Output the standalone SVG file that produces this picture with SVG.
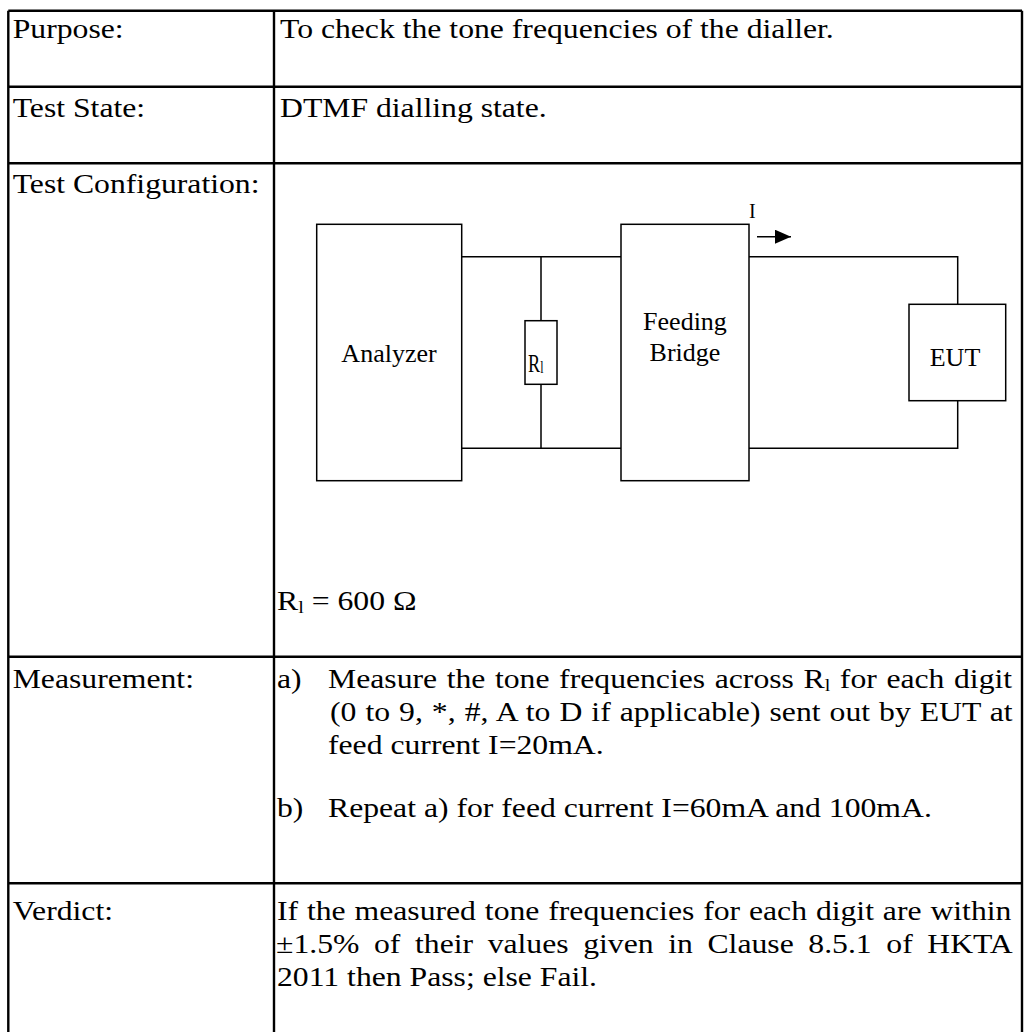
<svg xmlns="http://www.w3.org/2000/svg" width="1026" height="1032" viewBox="0 0 1026 1032">
<defs>
<style>
.t{font-family:"Liberation Serif","Times New Roman",serif;font-size:27.5px;fill:#000}
.d{font-family:"Liberation Serif","Times New Roman",serif;font-size:26px;fill:#000}
.grid{stroke:#000;stroke-width:2.4;fill:none}
.box{stroke:#000;stroke-width:1.5;fill:#fff}
.wire{stroke:#000;stroke-width:1.5;fill:none}
.sub{font-size:17.5px}
</style>
<marker id="ah" markerWidth="16" markerHeight="14" refX="16" refY="7" orient="auto" markerUnits="userSpaceOnUse">
<path d="M0,0 L16,7 L0,14 z" fill="#000"/>
</marker>
</defs>
<rect width="1026" height="1032" fill="#fff"/>

<g id="table-grid" class="grid">
<path d="M8.3 10.7 H1022 M8.3 86.7 H1022 M8.3 163.3 H1022 M8.3 656.7 H1022 M8.3 883.3 H1022"/>
<path d="M8.3 10.7 V1032 M274 10.7 V1032 M1022 10.7 V1032"/>
</g>

<g id="labels">
<text class="t" transform="translate(12.7,38) scale(1.153,1)">Purpose:</text>
<text class="t" transform="translate(12.7,116.5) scale(1.153,1)">Test State:</text>
<text class="t" transform="translate(12.7,192.5) scale(1.153,1)">Test Configuration:</text>
<text class="t" transform="translate(12.7,688) scale(1.153,1)">Measurement:</text>
<text class="t" transform="translate(12.7,920) scale(1.153,1)">Verdict:</text>
</g>

<g id="purpose">
<text class="t" transform="translate(280,38) scale(1.153,1)">To check the tone frequencies of the dialler.</text>
</g>
<g id="test-state">
<text class="t" transform="translate(280,116.5) scale(1.153,1)">DTMF dialling state.</text>
</g>

<g id="connectors" class="wire">
<path d="M461.7 256.7 H621 M461.7 448.3 H621"/>
<path d="M541 256.7 V320.7 M541 384.3 V448.3"/>
<path d="M749 256.7 H957.7 V304.3 M749 448.3 H957.7 V400.7"/>
<path d="M757 236.7 H791" marker-end="url(#ah)"/>
</g>

<g id="analyzer">
<rect class="box" x="316.7" y="224.3" width="145" height="256.4"/>
<text class="d" x="389" y="361.5" text-anchor="middle">Analyzer</text>
</g>

<g id="resistor">
<rect class="box" x="525" y="320.7" width="32" height="63.6"/>
<text class="d" transform="translate(528,371.7) scale(0.7,1)" style="font-size:26px">R<tspan dy="1.5" style="font-size:17px">l</tspan></text>
</g>

<g id="feeding-bridge">
<rect class="box" x="621" y="224.3" width="128" height="256.4"/>
<text class="d" x="685" y="329.5" text-anchor="middle">Feeding</text>
<text class="d" x="685" y="360.5" text-anchor="middle">Bridge</text>
</g>

<g id="eut">
<rect class="box" x="909" y="304.3" width="96.7" height="96.4"/>
<text class="d" x="955" y="366" text-anchor="middle">EUT</text>
</g>

<g id="current-label">
<text class="d" x="749" y="218" style="font-size:20px">I</text>
</g>

<g id="rl-value">
<text class="t" transform="translate(277,610) scale(1.153,1)">R<tspan class="sub" dy="3">l</tspan><tspan dy="-3"> = 600 Ω</tspan></text>
</g>

<g id="measurement">
<text class="t" transform="translate(277,688) scale(1.153,1)">a)</text>
<text class="t" transform="translate(328,688) scale(1.153,1)" word-spacing="1.45">Measure the tone frequencies across R<tspan class="sub" dy="3">l</tspan><tspan dy="-3"> for each digit</tspan></text>
<text class="t" transform="translate(330,721) scale(1.153,1)" word-spacing="0.95">(0 to 9, *, #, A to D if applicable) sent out by EUT at</text>
<text class="t" transform="translate(328,754) scale(1.153,1)">feed current I=20mA.</text>
<text class="t" transform="translate(277,817) scale(1.153,1)">b)</text>
<text class="t" transform="translate(328,817) scale(1.153,1)">Repeat a) for feed current I=60mA and 100mA.</text>
</g>

<g id="verdict">
<text class="t" transform="translate(277,920) scale(1.153,1)" word-spacing="0.83">If the measured tone frequencies for each digit are within</text>
<text class="t" transform="translate(276,953) scale(1.153,1)" word-spacing="5.8">±1.5% of their values given in Clause 8.5.1 of HKTA</text>
<text class="t" transform="translate(277,986) scale(1.153,1)">2011 then Pass; else Fail.</text>
</g>
</svg>
